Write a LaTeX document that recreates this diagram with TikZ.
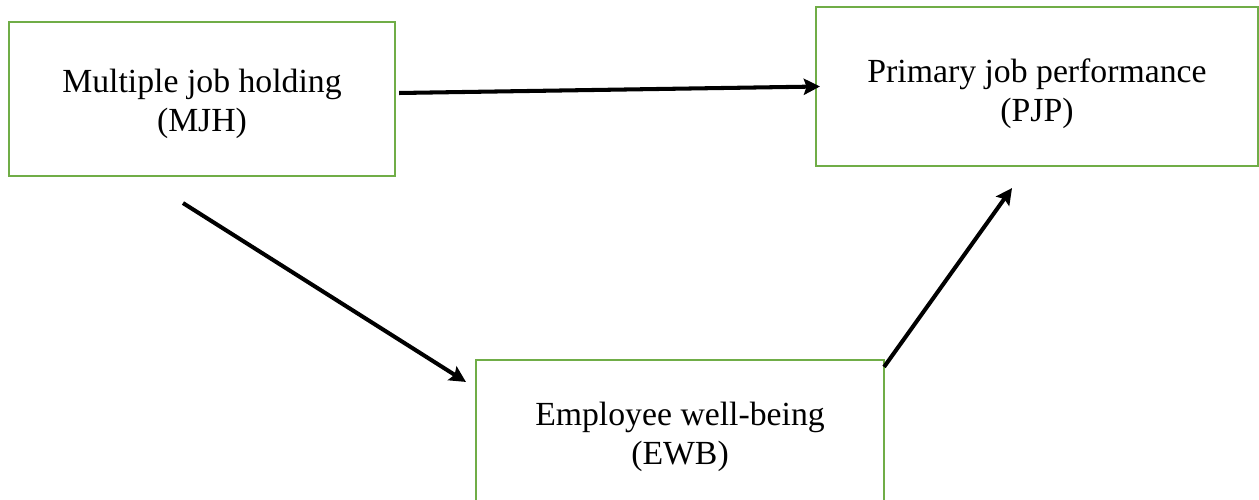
\documentclass[tikz,border=0pt]{standalone}
\usepackage{fontspec}
\setmainfont{Liberation Serif}
\usepackage{tikz}
\usetikzlibrary{arrows.meta,positioning}
\definecolor{mygreen}{HTML}{70AD47}

\begin{document}
\begin{tikzpicture}[>={Stealth[length=4.6pt,width=4.6pt,inset=0.8pt]}]
	\tikzstyle{box} = [shape=rectangle, draw=mygreen, line width=0.6pt, inner sep=0]
	\tikzstyle{boxtext} = [align=center, font=\fontsize{9.6}{11}\selectfont, inner sep=0]
	\tikzstyle{link} = [->, black, line width=1.15pt]
	\useasboundingbox (0,0) rectangle (12.59,-5.00);
	\clip (0,0) rectangle (12.59,-5.00);
	
	\node [box, minimum width=3.86cm, minimum height=1.54cm] (mjh) at (2.02,-0.99) {};
	\node [box, minimum width=4.42cm, minimum height=1.59cm] (pjp) at (10.37,-0.865) {};
	\node [box, minimum width=4.08cm, minimum height=1.60cm] (ewb) at (6.80,-4.40) {};
	
	\node [boxtext] (mjhtext) at ([yshift=-0.05cm]mjh.center) {Multiple job holding\\(MJH)};
	\node [boxtext] (pjptext) at ([yshift=-0.07cm]pjp.center) {Primary job performance\\(PJP)};
	\node [boxtext] (ewbtext) at ([yshift=0.03cm]ewb.center) {Employee well-being\\(EWB)};
	
	\draw [link] ([xshift=0.03cm,yshift=0.06cm]mjh.east) -- ([xshift=0.05cm]pjp.west);
	\draw [link] ([xshift=-0.19cm,yshift=-0.26cm]mjh.south) -- ([xshift=-0.09cm,yshift=-0.23cm]ewb.north west);
	\draw [link] ([xshift=-0.01cm,yshift=-0.08cm]ewb.north east) -- ([xshift=-0.25cm,yshift=-0.21cm]pjp.south);
\end{tikzpicture}
\end{document}
